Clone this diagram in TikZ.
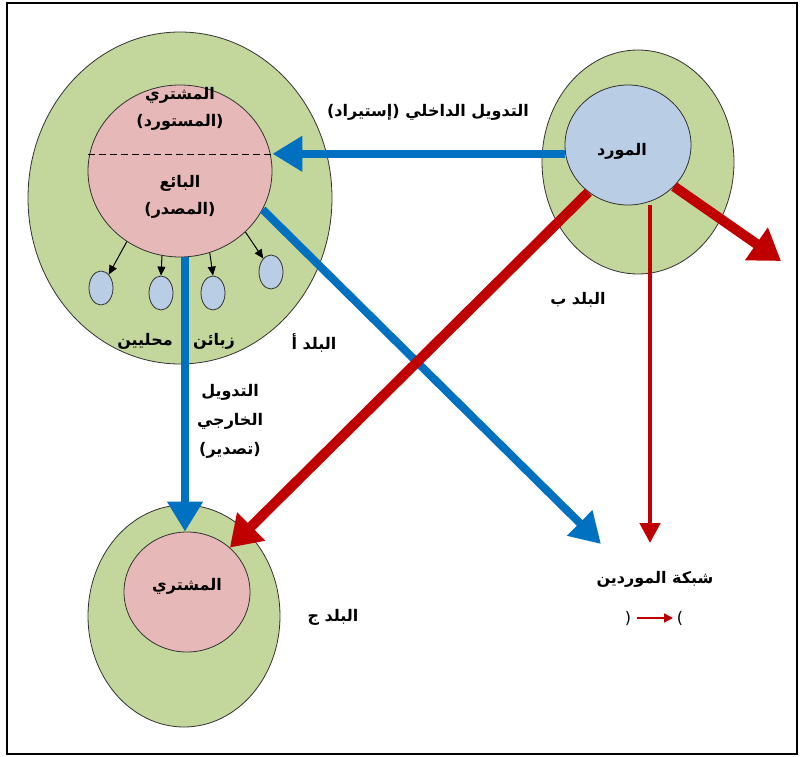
\documentclass[tikz,border=0pt]{standalone}
\usepackage{fontspec}
\usetikzlibrary{shapes.geometric,arrows.meta}
\TeXXeTstate=1
\newfontfamily\arabicfont[Script=Arabic]{DejaVu Sans}
\newcommand{\artext}[1]{{\arabicfont\bfseries\beginR #1\endR}}

\definecolor{countrygreen}{HTML}{C3D69B}
\definecolor{firmpink}{HTML}{E6B9B8}
\definecolor{supblue}{HTML}{B9CDE5}
\definecolor{flowblue}{HTML}{0070C0}
\definecolor{flowred}{HTML}{C00000}

\tikzset{
  oval/.style={ellipse, draw=black!80, line width=0.8pt, inner sep=0pt},
  country/.style={oval, fill=countrygreen},
  firm/.style={oval, fill=firmpink},
  supplier/.style={oval, fill=supblue},
  client/.style={oval, fill=supblue, minimum width=24pt, minimum height=34pt},
  label/.style={inner sep=1pt, font=\fontsize{16}{19}\selectfont},
  bluearrow/.style={draw=flowblue, line width=8pt,
    -{Triangle[length=30pt,width=34pt]}},
  redthick/.style={draw=flowred, line width=10pt,
    -{Triangle[length=30pt,width=38pt]}},
  redthin/.style={draw=flowred, line width=4.5pt,
    -{Triangle[length=20pt,width=20pt]}},
  smallarrow/.style={draw=black, line width=1pt,
    -{Triangle[length=9pt,width=8pt]}},
}

\begin{document}
\begin{tikzpicture}[x=1pt, y=-1pt]
  \useasboundingbox (0,0) rectangle (800,757);
  \draw[line width=2pt] (7,3) rectangle (797,754);

  % Country A with the domestic firm and its local clients
  \node[country, minimum width=304pt, minimum height=332pt] (cA) at (180,198) {};
  \node[firm, minimum width=184pt, minimum height=172pt] (selA) at (180,171) {};
  \draw[line width=0.8pt, dash pattern=on 7pt off 4pt] (selA.west) ++(0,-17) coordinate (dl)
    (dl) -- (dl -| selA.east);
  \node[label] (buyA) at (180,95) {\artext{المشتري}};
  \node[label] (impA) at (180,122) {\artext{(المستورد)}};
  \node[label] (sellA) at (180,183) {\artext{البائع}};
  \node[label] (expA) at (180,210) {\artext{(المصدر)}};

  \node[client] (c1) at (101,288) {};
  \node[client] (c2) at (161,293) {};
  \node[client] (c3) at (213,293) {};
  \node[client] (c4) at (271,272) {};
  \draw[smallarrow] (selA.233) -- (c1.60);
  \draw[smallarrow] (selA.258) -- (c2.north);
  \draw[smallarrow] (selA.-70) -- (c3.north);
  \draw[smallarrow] (selA.-43) -- (c4.120);

  \node[label] (cl1) at (214,341) {\artext{زبائن}};
  \node[label] (cl2) at (145,341) {\artext{محليين}};
  \node[label] (nameA) at (314,343) {\artext{البلد أ}};

  % Country B with the supplier
  \node[country, minimum width=192pt, minimum height=224pt] (cB) at (638,162) {};
  \node[supplier, minimum width=126pt, minimum height=120pt] (sup) at (628,145) {};
  \node[label] (supT) at (622,151) {\artext{المورد}};
  \node[label] (nameB) at (578,300) {\artext{البلد ب}};

  % Country C with the foreign buyer
  \node[country, minimum width=192pt, minimum height=222pt] (cC) at (184,616) {};
  \node[firm, minimum width=126pt, minimum height=120pt] (buyer) at (187,592) {};
  \node[label] (buyT) at (187,586) {\artext{المشتري}};
  \node[label] (nameC) at (333,617) {\artext{البلد ج}};

  % Supplier network label
  \coordinate (netBlue) at (601,544);
  \coordinate (netRed) at (650,543);
  \coordinate (outRed) at (781,261);
  \node[label] (net) at (655,579) {\artext{شبكة الموردين}};
  \node[label] (lp) at (628,618) {\arabicfont(};
  \node[label] (rp) at (680,618) {\arabicfont)};
  \draw[draw=flowred, line width=1.6pt, -{Triangle[length=9pt,width=9pt]}]
    (lp.east) ++(5,0) coordinate (la) (la) -- (rp.west -| 673,0);

  % Blue flows: import, export and towards the supplier network
  \draw[bluearrow] (sup.188) -- (sup.188 -| selA.east);
  \node[label] (impT) at (428,112) {\artext{التدويل الداخلي (إستيراد)}};
  \draw[bluearrow] (selA.-25) -- (netBlue);
  \draw[bluearrow] (selA.south -| 185,0) -- (buyer.north -| 185,0);
  \node[label] (expT1) at (230,392) {\artext{التدويل}};
  \node[label] (expT2) at (230,421) {\artext{الخارجي}};
  \node[label] (expT3) at (230,450) {\artext{(تصدير)}};

  % Red flows from the supplier
  \draw[redthick] (sup.230) -- (buyer.46);
  \draw[redthick] (sup.-42) -- (outRed);
  \draw[redthin] (sup.south -| netRed) -- (netRed);
\end{tikzpicture}
\end{document}
